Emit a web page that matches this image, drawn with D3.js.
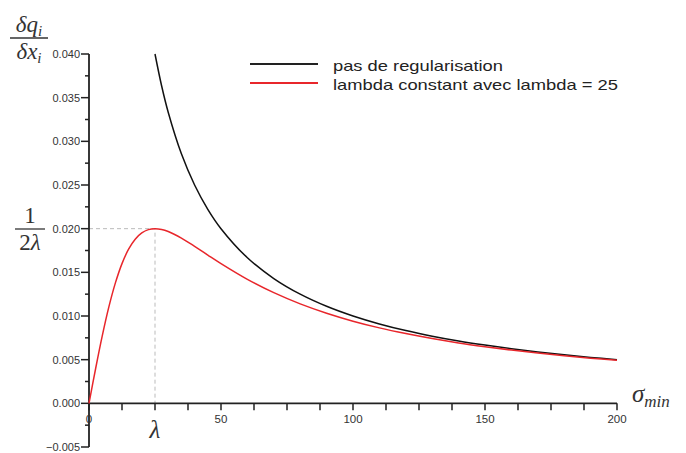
<!DOCTYPE html>
<html><head><meta charset="utf-8">
<script src="https://cdn.jsdelivr.net/npm/d3@7"></script>
<style>body{margin:0;background:#fff}svg{display:block}</style>
</head><body>
<script>
const sigma = [0,2.5,5,7.5,10,12.5,15,17.5,20,22.5,25,27.5,30,35,40,45,50,60,70,80,90,100,110,120,130,140,150,160,170,180,190,200];
const regularised = [0,0.00396,0.00769,0.01101,0.01379,0.016,0.01765,0.01879,0.01951,0.01989,0.02,0.01991,0.01967,0.01892,0.01798,0.01698,0.016,0.0142,0.01267,0.01139,0.01032,0.00941,0.00864,0.00799,0.00742,0.00692,0.00649,0.0061,0.00576,0.00545,0.00517,0.00492];
const sigmaBlack = [25,27.5,30,35,40,45,50,60,70,80,90,100,110,120,130,140,150,160,170,180,190,200];
const unregularised = [0.04,0.03636,0.03333,0.02857,0.025,0.02222,0.02,0.01667,0.01429,0.0125,0.01111,0.01,0.00909,0.00833,0.00769,0.00714,0.00667,0.00625,0.00588,0.00556,0.00526,0.005];
const xTicks = [0,50,100,150,200];
const yTicks = [-0.005,0,0.005,0.01,0.015,0.02,0.025,0.03,0.035,0.04];
const legendLabels = ["pas de regularisation","lambda constant avec lambda = 25"];
const lambda = 25, peak = 0.02;

const W=686,H=453;
const svg=d3.select("body").append("svg").attr("width",W).attr("height",H);
const x=d3.scaleLinear().domain([0,200]).range([89,617]);
const y=d3.scaleLinear().domain([-0.005,0.04]).range([447,54]);
const axisColor="#222", labColor="#333";
const sans="Liberation Sans, Arial, sans-serif";

// dashed guides
svg.append("path").attr("d",`M${x(0)},${y(peak)}H${x(lambda)}V${y(0)}`)
  .attr("fill","none").attr("stroke","#bbb").attr("stroke-dasharray","4,3").attr("stroke-width",1);

// y axis
const g=svg.append("g");
g.append("line").attr("x1",x(0)).attr("x2",x(0)).attr("y1",y(-0.005)).attr("y2",y(0.04)).attr("stroke",axisColor).attr("stroke-width",1.8);
const yMinor=d3.range(-0.005,0.04001,0.0025);
yMinor.forEach(v=>{
  const major=Math.abs(Math.round(v/0.005)*0.005-v)<1e-9;
  g.append("line").attr("x1",x(0)-(major?8:4)).attr("x2",x(0)).attr("y1",y(v)).attr("y2",y(v)).attr("stroke",axisColor).attr("stroke-width",1.5);
});
yTicks.forEach(v=>{
  g.append("text").attr("x",x(0)-9).attr("y",y(v)).attr("dy","0.35em").attr("text-anchor","end")
   .attr("font-family",sans).attr("font-size",11).attr("fill",labColor)
   .text(v<0?"\u22120.005":d3.format(".3f")(v));
});
// x axis
g.append("line").attr("x1",x(0)).attr("x2",x(200)).attr("y1",y(0)).attr("y2",y(0)).attr("stroke",axisColor).attr("stroke-width",1.8);
d3.range(0,200.01,12.5).forEach(v=>{
  g.append("line").attr("x1",x(v)).attr("x2",x(v)).attr("y1",y(0)).attr("y2",y(0)+7).attr("stroke",axisColor).attr("stroke-width",1.5);
});
xTicks.forEach(v=>{
  g.append("text").attr("x",x(v)).attr("y",y(0)+20).attr("text-anchor","middle")
   .attr("font-family",sans).attr("font-size",11.5).attr("fill",labColor).text(v);
});

// curves
const line=d3.line().curve(d3.curveCatmullRom);
svg.append("path").attr("d",line(sigmaBlack.map((s,i)=>[x(s),y(unregularised[i])])))
  .attr("fill","none").attr("stroke","#111").attr("stroke-width",1.5);
svg.append("path").attr("d",line(sigma.map((s,i)=>[x(s),y(regularised[i])])))
  .attr("fill","none").attr("stroke","#e8262b").attr("stroke-width",1.5);

// legend
[["#222",64,71,170],["#e8262b",83,90,285]].forEach(([c,yy,by,tl],i)=>{
  svg.append("line").attr("x1",250).attr("x2",318).attr("y1",yy).attr("y2",yy).attr("stroke",c).attr("stroke-width",1.8);
  svg.append("text").attr("x",333).attr("y",by).attr("font-family",sans)
    .attr("font-size",15).attr("fill","#222").attr("textLength",tl).attr("lengthAdjust","spacingAndGlyphs").text(legendLabels[i]);
});

// math labels
function frac(cx,cy,num,den,w){
  const t=svg.append("g").attr("fill","#333").attr("font-family","Liberation Serif, serif").attr("font-size",23);
  t.append("text").attr("x",cx).attr("y",cy-6).attr("text-anchor","middle").html(num);
  t.append("line").attr("x1",cx-w/2).attr("x2",cx+w/2).attr("y1",cy).attr("y2",cy).attr("stroke","#333").attr("stroke-width",1.3);
  t.append("text").attr("x",cx).attr("y",cy+21).attr("text-anchor","middle").html(den);
}
frac(29,38,'<tspan font-style="italic">δq</tspan><tspan font-style="italic" font-size="15" dy="4">i</tspan>','<tspan font-style="italic">δx</tspan><tspan font-style="italic" font-size="15" dy="4">i</tspan>',38);
frac(30,229,'1','2<tspan font-style="italic">λ</tspan>',30);
svg.append("text").attr("x",x(lambda)).attr("y",438).attr("text-anchor","middle").attr("font-family","Liberation Serif, serif")
  .attr("font-style","italic").attr("font-size",25).attr("fill","#333").text("λ");
svg.append("text").attr("x",632).attr("y",402).attr("font-family","Liberation Serif, serif").attr("font-style","italic").attr("font-size",25).attr("fill","#333")
  .html('σ<tspan font-size="17" dy="5">min</tspan>');
</script>
</body></html>
